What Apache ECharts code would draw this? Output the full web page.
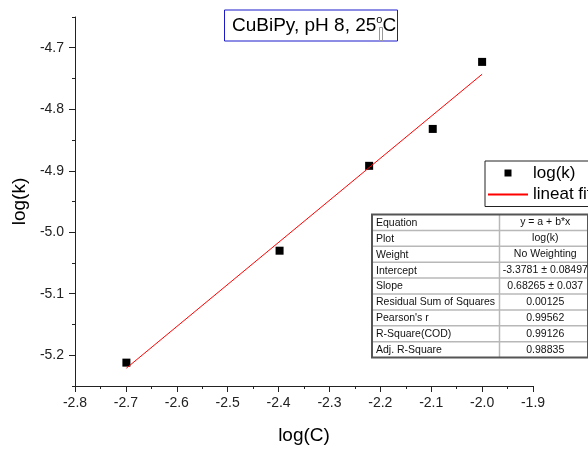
<!DOCTYPE html>
<html>
<head>
<meta charset="utf-8">
<script src="https://cdn.jsdelivr.net/npm/echarts@6/dist/echarts.min.js"></script>
<style>
html,body{margin:0;padding:0;background:#fff;}
#chart{width:588px;height:450px;}
</style>
</head>
<body>
<div id="chart"></div>
<script>
const logC = [-2.699, -2.398, -2.222, -2.097, -2.0];
const logK = [-5.212, -5.030, -4.892, -4.832, -4.723];
const fitX = [-2.699, -2.0];
const fitY = [-5.221, -4.743];
const xTicks = [-2.8, -2.7, -2.6, -2.5, -2.4, -2.3, -2.2, -2.1, -2.0, -1.9];
const yTicks = [-5.2, -5.1, -5.0, -4.9, -4.8, -4.7];
const tableLabels = ['Equation', 'Plot', 'Weight', 'Intercept', 'Slope', 'Residual Sum of Squares', "Pearson's r", 'R-Square(COD)', 'Adj. R-Square'];
const tableValues = ['y = a + b*x', 'log(k)', 'No Weighting', '-3.3781 \u00b1 0.08497', '0.68265 \u00b1 0.037', '0.00125', '0.99562', '0.99126', '0.98835'];

const FONT = '"Liberation Sans", Arial, sans-serif';
const chart = echarts.init(document.getElementById('chart'), null, {renderer: 'canvas'});

// table graphics
const tX = 372, tY = 214.5, tW = 216, rowH = 15.9, colX = 127.5;
const tableEls = [];
tableEls.push({type: 'rect', shape: {x: tX, y: tY, width: tW, height: rowH * tableLabels.length},
  style: {fill: '#fff', stroke: 'none'}, z: 10});
for (let i = 1; i < tableLabels.length; i++) {
  tableEls.push({type: 'line', shape: {x1: tX, y1: tY + i * rowH, x2: tX + tW, y2: tY + i * rowH},
    style: {stroke: '#b8b8b8', lineWidth: 1.5}, z: 11});
}
tableEls.push({type: 'line', shape: {x1: tX + colX, y1: tY, x2: tX + colX, y2: tY + rowH * tableLabels.length},
  style: {stroke: '#b8b8b8', lineWidth: 1.5}, z: 11});
tableEls.push({type: 'rect', shape: {x: tX, y: tY, width: tW, height: rowH * tableLabels.length},
  style: {fill: 'none', stroke: '#555', lineWidth: 2}, z: 12});
tableLabels.forEach((t, i) => {
  tableEls.push({type: 'text', x: tX + 4, y: tY + (i + 0.5) * rowH + 0.5, z: 13,
    style: {text: t, font: '10.5px ' + FONT, fill: '#111', textAlign: 'left', textVerticalAlign: 'middle'}});
  tableEls.push({type: 'text', x: tX + (colX + tW) / 2 + 1.5, y: tY + (i + 0.5) * rowH, z: 13,
    style: {text: tableValues[i], font: '10.5px ' + FONT, fill: '#111', textAlign: 'center', textVerticalAlign: 'middle'}});
});
// missing-glyph box in the title
tableEls.push({type: 'rect', shape: {x: 379.5, y: 27.5, width: 3, height: 13},
  style: {fill: '#fff', stroke: '#999', lineWidth: 1}, z: 20});

const axisColor = '#222';
const option = {
  animation: false,
  backgroundColor: '#fff',
  textStyle: {fontFamily: FONT},
  title: {
    text: 'CuBiPy, pH 8, 25{sup|o}C',
    left: 224, top: 9.5,
    padding: [5, 2, 5, 8],
    borderColor: '#1a1acc', borderWidth: 1,
    backgroundColor: '#fff',
    textStyle: {
      fontFamily: FONT, fontSize: 19, fontWeight: 'normal', color: '#000', lineHeight: 22,
      rich: {sup: {fontFamily: FONT, fontSize: 11, color: '#000', verticalAlign: 'top', lineHeight: 22, padding: [0, 0, 0, 0]}}
    }
  },
  legend: {
    orient: 'vertical',
    left: 485, top: 161,
    itemWidth: 40, itemHeight: 7, itemGap: 4.5,
    padding: [3.5, 20, 3.5, 2],
    borderColor: '#222', borderWidth: 1,
    backgroundColor: '#fff',
    symbolKeepAspect: true,
    textStyle: {fontFamily: FONT, fontSize: 17, color: '#000'},
    data: [
      {name: 'log(k)', icon: 'path://M0,0h10v10h-10z', itemStyle: {color: '#000', opacity: 1}},
      {name: 'lineat fit', itemStyle: {color: 'rgba(0,0,0,0)', borderColor: 'rgba(0,0,0,0)', opacity: 0}}
    ]
  },
  grid: {left: 75, right: 55, top: 17, bottom: 64, containLabel: false},
  xAxis: {
    type: 'value', min: -2.8, max: -1.9, interval: 0.1,
    name: 'log(C)', nameLocation: 'middle', nameGap: 40,
    nameTextStyle: {fontFamily: FONT, fontSize: 19, color: '#000'},
    axisLine: {show: true, onZero: false, lineStyle: {color: axisColor, width: 1}},
    axisTick: {show: true, length: 6, lineStyle: {color: axisColor}},
    minorTick: {show: true, splitNumber: 2, length: 3, lineStyle: {color: axisColor}},
    axisLabel: {fontFamily: FONT, fontSize: 14, color: '#222', margin: 10,
      formatter: v => (Math.abs(v) < 1e-9 ? 0 : v).toFixed(1)},
    splitLine: {show: false}
  },
  yAxis: [{
    type: 'value', min: -5.25, max: -4.65, interval: 0.05,
    axisLine: {show: true, onZero: false, lineStyle: {color: axisColor, width: 1}},
    axisTick: {show: true, length: 3, lineStyle: {color: axisColor}},
    axisLabel: {show: false},
    splitLine: {show: false}
  }, {
    type: 'value', min: -5.25, max: -4.65, position: 'left', offset: 0,
    name: 'log(k)', nameLocation: 'middle', nameGap: 35,
    nameTextStyle: {fontFamily: FONT, fontSize: 19, color: '#000'},
    axisLine: {show: false, onZero: false},
    axisTick: {show: true, length: 6, customValues: yTicks, lineStyle: {color: axisColor}},
    axisLabel: {fontFamily: FONT, fontSize: 14, color: '#222', margin: 11, customValues: yTicks,
      formatter: v => v.toFixed(1)},
    splitLine: {show: false}
  }],
  series: [{
    name: 'log(k)', type: 'scatter', yAxisIndex: 0,
    symbol: 'rect', symbolSize: 8, symbolKeepAspect: true,
    itemStyle: {color: '#000', opacity: 1},
    data: logC.map((x, i) => [x, logK[i]]),
    z: 2
  }, {
    name: 'lineat fit', type: 'line', yAxisIndex: 0,
    symbol: 'none', showSymbol: false,
    lineStyle: {color: '#ff0000', width: 1},
    itemStyle: {color: '#ff0000'},
    data: fitX.map((x, i) => [x, fitY[i]]),
    z: 3
  }],
  graphic: tableEls
};
chart.setOption(option);
</script>
</body>
</html>
